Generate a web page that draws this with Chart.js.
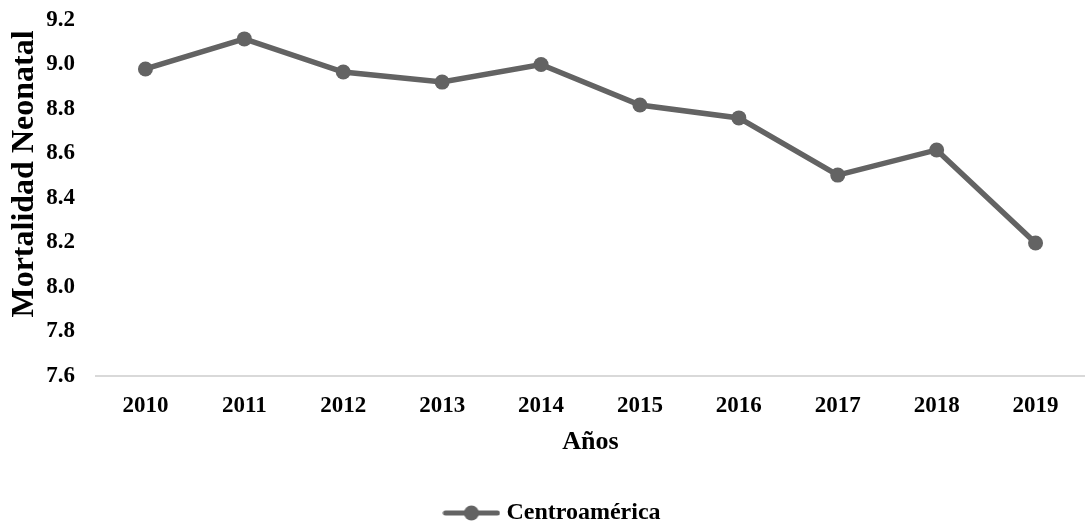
<!DOCTYPE html>
<html>
<head>
<meta charset="utf-8">
<script src="https://cdn.jsdelivr.net/npm/chart.js@4"></script>
<style>
  html, body { margin: 0; padding: 0; background: #fff; overflow: hidden; }
  #wrap { width: 1085px; height: 523px; }
  canvas { display: block; }
</style>
</head>
<body>
<div id="wrap"><canvas id="chart" width="1085" height="523"></canvas></div>
<script>
const years = ['2010', '2011', '2012', '2013', '2014', '2015', '2016', '2017', '2018', '2019']
const centroamerica = [8.98, 9.115, 8.966, 8.921, 9.0, 8.818, 8.76, 8.503, 8.616, 8.198]
const seriesName = 'Centroamérica'
const xTitle = 'Años'
const yTitle = 'Mortalidad Neonatal'

const lineColor = '#636363'
const serif = '"Liberation Serif", "Times New Roman", serif'

// legend marker: line with a dot in the middle
function legendMarker() {
  const c = document.createElement('canvas')
  c.width = 58
  c.height = 16
  const ctx = c.getContext('2d')
  ctx.strokeStyle = lineColor
  ctx.lineWidth = 5
  ctx.lineCap = 'round'
  ctx.beginPath()
  ctx.moveTo(3, 8)
  ctx.lineTo(55, 8)
  ctx.stroke()
  ctx.fillStyle = lineColor
  ctx.beginPath()
  ctx.arc(29, 8, 7.5, 0, Math.PI * 2)
  ctx.fill()
  return c
}
const marker = legendMarker()

// y title sits above the middle of the axis in the original, so draw it by hand
const yTitlePlugin = {
  id: 'yTitle',
  afterDraw(chart) {
    const ctx = chart.ctx
    ctx.save()
    ctx.translate(33, 174)
    ctx.rotate(-Math.PI / 2)
    ctx.font = 'bold 32px ' + serif
    ctx.fillStyle = '#000'
    ctx.textAlign = 'center'
    ctx.textBaseline = 'alphabetic'
    ctx.fillText(yTitle, 0, 0)
    ctx.restore()
  },
}

// nudge the legend right and down, like the original
const legendShift = {
  id: 'legendShift',
  afterLayout(chart) {
    chart.legend.left += 12
    chart.legend.right += 12
    chart.legend.top += 12
    chart.legend.bottom += 12
  },
}

Chart.defaults.font.family = serif
Chart.defaults.font.weight = 'bold'
Chart.defaults.color = '#000'

new Chart(document.getElementById('chart'), {
  type: 'line',
  data: {
    labels: years,
    datasets: [{
      label: seriesName,
      data: centroamerica,
      borderColor: lineColor,
      backgroundColor: lineColor,
      borderWidth: 5.5,
      pointRadius: 7.5,
      pointHoverRadius: 7.5,
      pointBackgroundColor: lineColor,
      pointBorderWidth: 0,
      tension: 0,
    }],
  },
  plugins: [yTitlePlugin, legendShift],
  options: {
    responsive: false,
    animation: false,
    layout: { autoPadding: false, padding: { left: 0, right: 0, top: 20, bottom: 0 } },
    plugins: {
      tooltip: { enabled: false },
      legend: {
        position: 'bottom',
        labels: {
          usePointStyle: true,
          pointStyleWidth: 46,
          font: { size: 24, weight: 'bold', family: serif, lineHeight: 1 },
          padding: 0,
          generateLabels: (chart) => [{
            text: seriesName,
            pointStyle: marker,
            fillStyle: lineColor,
            strokeStyle: lineColor,
            lineWidth: 0,
            datasetIndex: 0,
          }],
        },
      },
    },
    scales: {
      x: {
        offset: true,
        grid: { display: false, drawTicks: false },
        border: { color: '#d9d9d9', width: 2 },
        ticks: { font: { size: 23, weight: 'bold' }, padding: 16 },
        title: {
          display: true,
          text: xTitle,
          font: { size: 26, weight: 'bold' },
          padding: { top: 0, bottom: 31 },
        },
        afterFit(scale) {
          scale.paddingLeft = 0
          scale.paddingRight = 0
          scale.height = 113
        },
      },
      y: {
        min: 7.6,
        max: 9.2,
        grid: { display: false, drawTicks: false },
        border: { display: false },
        ticks: {
          stepSize: 0.2,
          font: { size: 23, weight: 'bold' },
          padding: 21,
          callback: (v) => v.toFixed(1),
        },
        afterFit(scale) {
          scale.width = 96
          scale.paddingTop = 0
          scale.paddingBottom = 0
        },
      },
    },
  },
})
</script>
</body>
</html>
